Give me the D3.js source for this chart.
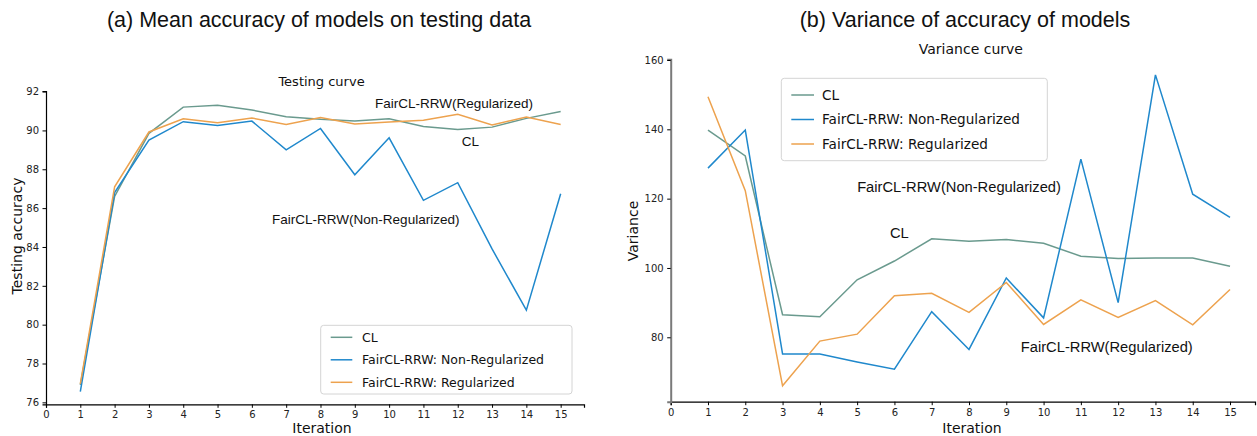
<!DOCTYPE html>
<html>
<head>
<meta charset="utf-8">
<script src="https://cdn.jsdelivr.net/npm/d3@7"></script>
<style>
  body { margin: 0; background: white; }
  svg { display: block; }
  .tick text { font-family: "DejaVu Sans", sans-serif; font-size: 10px; fill: #222; }
</style>
</head>
<body>
<div id="chart"></div>
<script>
// iterations on the x axis
const iterations = [1, 2, 3, 4, 5, 6, 7, 8, 9, 10, 11, 12, 13, 14, 15]
const xTicks = [0, 1, 2, 3, 4, 5, 6, 7, 8, 9, 10, 11, 12, 13, 14, 15]
const seriesNames = ['CL', 'FairCL-RRW: Non-Regularized', 'FairCL-RRW: Regularized']

// (a) mean testing accuracy
const accCL = [76.9, 86.6, 89.85, 91.2, 91.3, 91.05, 90.7, 90.57, 90.48, 90.6, 90.2, 90.05, 90.17, 90.62, 90.97]
const accNonReg = [76.55, 86.8, 89.5, 90.45, 90.25, 90.48, 89.0, 90.1, 87.72, 89.62, 86.4, 87.31, 83.9, 80.75, 86.74]
const accReg = [76.95, 87.1, 89.92, 90.6, 90.4, 90.64, 90.3, 90.67, 90.33, 90.43, 90.52, 90.83, 90.28, 90.69, 90.31]
const accTicks = [76, 78, 80, 82, 84, 86, 88, 90, 92]

// (b) variance of accuracy
const varCL = [139.8, 132.3, 86.5, 85.9, 96.6, 102.0, 108.4, 107.7, 108.2, 107.1, 103.4, 102.7, 102.9, 102.9, 100.5]
const varNonReg = [128.8, 139.8, 75.2, 75.2, 72.9, 70.8, 87.4, 76.5, 97.1, 85.6, 131.4, 90.0, 155.7, 121.3, 114.6]
const varReg = [149.4, 122.3, 66.0, 78.9, 80.9, 92.0, 92.7, 87.2, 95.8, 83.7, 90.8, 85.7, 90.6, 83.6, 93.8]
const varTicks = [80, 100, 120, 140, 160]

const colors = ['#6a9a8e', '#1f88cc', '#eda24e']

const svg = d3.select('#chart').append('svg')
  .attr('width', 1257)
  .attr('height', 436)

function drawPanel(opt) {
  const x = d3.scaleLinear().domain(opt.xDomain).range(opt.xRange)
  const y = d3.scaleLinear().domain(opt.yDomain).range(opt.yRange)
  const g = svg.append('g')

  // axes
  const xAxis = g.append('g')
    .attr('transform', `translate(0, ${opt.yRange[0]})`)
    .call(d3.axisBottom(x).tickValues(xTicks).tickFormat(d3.format('d')).tickSizeOuter(0).tickSize(3.5).tickPadding(3.5))
  xAxis.select('.domain').attr('stroke', '#000').attr('stroke-width', 1.2)

  const yAxis = g.append('g')
    .attr('transform', `translate(${opt.xRange[0]}, 0)`)
    .call(d3.axisLeft(y).tickValues(opt.yTicks).tickFormat(d3.format('d')).tickSizeOuter(0).tickSize(3.5).tickPadding(3.5))
  yAxis.select('.domain').attr('stroke', opt.ySpineColor).attr('stroke-width', opt.ySpineWidth)

  // lines
  const line = d3.line()
    .x((d, i) => x(iterations[i]))
    .y(d => y(d))
  opt.series.forEach((s, k) => {
    g.append('path')
      .datum(s)
      .attr('fill', 'none')
      .attr('stroke', colors[k])
      .attr('stroke-width', 1.5)
      .attr('d', line)
  })

  // notes on the plot
  opt.notes.forEach(n => {
    g.append('text')
      .attr('x', x(n.x))
      .attr('y', y(n.y))
      .attr('text-anchor', n.anchor || 'start')
      .style('font-family', n.font)
      .style('font-size', n.size + 'px')
      .attr('fill', '#111')
      .text(n.text)
  })

  // title
  svg.append('text')
    .attr('x', opt.titleX)
    .attr('y', 27)
    .attr('text-anchor', 'middle')
    .style('font-family', '"Liberation Sans", Arial, sans-serif')
    .style('font-size', '21.5px')
    .attr('fill', '#111')
    .text(opt.title)

  // axis labels
  svg.append('text')
    .attr('x', opt.xLabelX)
    .attr('y', 433)
    .attr('text-anchor', 'middle')
    .style('font-family', '"DejaVu Sans", sans-serif')
    .style('font-size', '14px')
    .attr('fill', '#111')
    .text('Iteration')

  svg.append('text')
    .attr('transform', `translate(${opt.yLabelX}, ${opt.yLabelY}) rotate(-90)`)
    .attr('text-anchor', 'middle')
    .style('font-family', '"DejaVu Sans", sans-serif')
    .style('font-size', '14px')
    .attr('fill', '#111')
    .text(opt.yLabel)

  // legend
  const L = opt.legend
  const lg = g.append('g')
  lg.append('rect')
    .attr('x', L.x).attr('y', L.y)
    .attr('width', L.w).attr('height', L.h)
    .attr('rx', 3)
    .attr('fill', 'white').attr('fill-opacity', 0.85)
    .attr('stroke', '#d4d4d4')
  seriesNames.forEach((name, k) => {
    const cy = L.y + L.first + k * L.step
    lg.append('line')
      .attr('x1', L.x + 10).attr('x2', L.x + 10 + L.lineW)
      .attr('y1', cy).attr('y2', cy)
      .attr('stroke', colors[k]).attr('stroke-width', 1.5)
    lg.append('text')
      .attr('x', L.x + L.textOff)
      .attr('y', cy)
      .attr('dy', '0.36em')
      .style('font-family', '"DejaVu Sans", sans-serif')
      .style('font-size', L.size + 'px')
      .attr('fill', '#111')
      .text(name)
  })
}

const arial = '"Liberation Sans", Arial, sans-serif'
const dejavu = '"DejaVu Sans", sans-serif'

drawPanel({
  xDomain: [0, 15.68], xRange: [46, 584],
  yDomain: [75.9, 92.03], yRange: [404.3, 91],
  yTicks: accTicks,
  ySpineColor: '#000', ySpineWidth: 1.2,
  series: [accCL, accNonReg, accReg],
  title: '(a) Mean accuracy of models on testing data', titleX: 319,
  xLabelX: 322, yLabel: 'Testing accuracy', yLabelX: 22, yLabelY: 236,
  notes: [
    { text: 'Testing curve', x: 8.03, y: 92.29, anchor: 'middle', font: dejavu, size: 13 },
    { text: 'FairCL-RRW(Regularized)', x: 9.59, y: 91.15, font: arial, size: 13.5 },
    { text: 'CL', x: 12.12, y: 89.2, font: arial, size: 13.5 },
    { text: 'FairCL-RRW(Non-Regularized)', x: 6.59, y: 85.18, font: arial, size: 13.5 }
  ],
  legend: { x: 320.7, y: 325.3, w: 251.3, h: 68.7, first: 12, step: 22.5, lineW: 21.6, textOff: 41.3, size: 12.5 }
})

drawPanel({
  xDomain: [0, 15.67], xRange: [670.7, 1255],
  yDomain: [61.42, 160.2], yRange: [401.7, 59.3],
  yTicks: varTicks,
  ySpineColor: '#7a7a7a', ySpineWidth: 2,
  series: [varCL, varNonReg, varReg],
  title: '(b) Variance of accuracy of models', titleX: 965,
  xLabelX: 972, yLabel: 'Variance', yLabelX: 638, yLabelY: 231,
  notes: [
    { text: 'Variance curve', x: 8.05, y: 161.73, anchor: 'middle', font: dejavu, size: 14 },
    { text: 'FairCL-RRW(Non-Regularized)', x: 5.0, y: 121.9, font: arial, size: 14.7 },
    { text: 'CL', x: 5.88, y: 108.64, font: arial, size: 14.7 },
    { text: 'FairCL-RRW(Regularized)', x: 9.39, y: 75.75, font: arial, size: 14.7 }
  ],
  legend: { x: 781.3, y: 78.3, w: 266, h: 82.4, first: 16.7, step: 24.5, lineW: 22.7, textOff: 40.7, size: 13.6 }
})
</script>
</body>
</html>
